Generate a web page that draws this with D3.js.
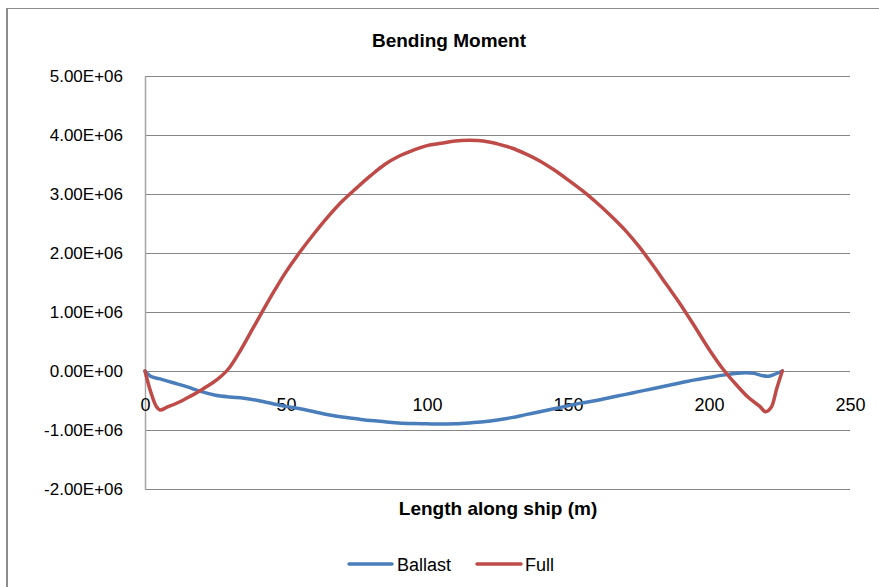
<!DOCTYPE html>
<html>
<head>
<meta charset="utf-8">
<script src="https://cdn.jsdelivr.net/npm/d3@7"></script>
<style>
  html, body { margin: 0; padding: 0; background: #fff; }
  svg { display: block; }
  text { font-family: "Liberation Sans", Arial, sans-serif; fill: #000; }
</style>
</head>
<body>
<svg id="chart" width="879" height="587"></svg>
<script>
// Bending moment along the ship (m) for two loading conditions, values in N·m
const ballastX = [0, 2, 5, 10, 15, 20, 25, 30, 35, 40, 45, 50, 55, 60, 65, 70, 75, 80, 85, 90,
  95, 100, 105, 110, 115, 120, 125, 130, 135, 140, 145, 150, 155, 160, 165, 170, 175, 180,
  185, 190, 195, 200, 205, 210, 213, 216, 219, 221, 223, 226];
const ballastM = [0, -0.09e6, -0.13e6, -0.2e6, -0.27e6, -0.35e6, -0.41e6, -0.44e6, -0.46e6,
  -0.5e6, -0.55e6, -0.6e6, -0.64e6, -0.69e6, -0.74e6, -0.78e6, -0.81e6, -0.84e6, -0.86e6,
  -0.88e6, -0.89e6, -0.895e6, -0.9e6, -0.895e6, -0.88e6, -0.86e6, -0.83e6, -0.79e6, -0.74e6,
  -0.69e6, -0.64e6, -0.59e6, -0.54e6, -0.5e6, -0.45e6, -0.4e6, -0.35e6, -0.3e6, -0.25e6,
  -0.2e6, -0.15e6, -0.11e6, -0.07e6, -0.04e6, -0.03e6, -0.04e6, -0.08e6, -0.09e6, -0.06e6, 0];

const fullX = [0, 2, 4, 5.3, 8, 12, 16, 20, 24, 27, 30, 34, 38, 42, 46, 50, 55, 60, 65, 70, 75,
  80, 85, 90, 95, 100, 105, 110, 115, 120, 125, 130, 135, 140, 145, 150, 155, 160, 165, 170,
  175, 180, 185, 190, 195, 200, 205, 210, 214, 218, 220, 222, 224, 226];
const fullM = [0, -0.35e6, -0.6e6, -0.66e6, -0.61e6, -0.53e6, -0.43e6, -0.32e6, -0.2e6,
  -0.09e6, 0.06e6, 0.36e6, 0.7e6, 1.04e6, 1.37e6, 1.68e6, 2.02e6, 2.33e6, 2.62e6, 2.88e6,
  3.1e6, 3.31e6, 3.5e6, 3.64e6, 3.74e6, 3.82e6, 3.86e6, 3.9e6, 3.91e6, 3.9e6, 3.85e6,
  3.78e6, 3.68e6, 3.56e6, 3.41e6, 3.24e6, 3.06e6, 2.86e6, 2.64e6, 2.4e6, 2.12e6, 1.8e6,
  1.46e6, 1.12e6, 0.75e6, 0.37e6, 0.03e6, -0.25e6, -0.45e6, -0.6e6, -0.69e6, -0.62e6, -0.3e6, 0];

const xTicks = [0, 50, 100, 150, 200, 250];
const yTicks = [5e6, 4e6, 3e6, 2e6, 1e6, 0, -1e6, -2e6];

const seriesNames = ["Ballast", "Full"];
const seriesColors = ["#4a7ebb", "#be4b48"];

const svg = d3.select("#chart");

// outer frame of the chart area
svg.append("rect")
  .attr("x", 7.5).attr("y", 8.5)
  .attr("width", 900).attr("height", 620)
  .attr("fill", "none").attr("stroke", "#8c8c8c").attr("stroke-width", 1);
svg.append("line")
  .attr("x1", 7).attr("x2", 7).attr("y1", 8).attr("y2", 600)
  .attr("stroke", "#8c8c8c").attr("stroke-width", 2);

const plot = { left: 145, right: 850, top: 76, bottom: 489 };

const x = d3.scaleLinear().domain([0, 250]).range([plot.left, plot.right]);
const y = d3.scaleLinear().domain([-2e6, 5e6]).range([plot.bottom, plot.top]);

// horizontal gridlines
svg.append("g")
  .selectAll("line")
  .data(yTicks)
  .join("line")
  .attr("x1", plot.left).attr("x2", plot.right)
  .attr("y1", d => Math.round(y(d)) + 0.5).attr("y2", d => Math.round(y(d)) + 0.5)
  .attr("stroke", "#868686").attr("stroke-width", 1);

// vertical axis line
svg.append("line")
  .attr("x1", plot.left + 0.5).attr("x2", plot.left + 0.5)
  .attr("y1", plot.top).attr("y2", plot.bottom + 1)
  .attr("stroke", "#a6a6a6").attr("stroke-width", 1.5);

// y axis labels
const fmt = d => {
  if (d === 0) return "0.00E+00";
  const e = Math.floor(Math.log10(Math.abs(d)));
  const m = d / Math.pow(10, e);
  return m.toFixed(2) + "E+" + String(e).padStart(2, "0");
};
const yAxis = d3.axisLeft(y).tickValues(yTicks).tickFormat(fmt).tickSize(0).tickPadding(22);
const gy = svg.append("g").attr("transform", `translate(${plot.left},0)`).call(yAxis);
gy.select(".domain").remove();
gy.selectAll("text").style("font-size", "17px").style("font-family", "'Liberation Sans', Arial, sans-serif").attr("fill", "#000");

// x axis labels sit below the zero line
const xAxis = d3.axisBottom(x).tickValues(xTicks).tickFormat(d3.format("d")).tickSize(0).tickPadding(40);
const gx = svg.append("g").attr("transform", `translate(0,${y(0)})`).call(xAxis);
gx.select(".domain").remove();
gx.selectAll("text").style("font-size", "18px").style("font-family", "'Liberation Sans', Arial, sans-serif").attr("fill", "#000").attr("dy", "0");

// series lines, smoothed through the sampled stations
const line = d3.line().curve(d3.curveCatmullRom.alpha(0.5)).x(d => x(d[0])).y(d => y(d[1]));
const series = [
  ballastX.map((v, i) => [v, ballastM[i]]),
  fullX.map((v, i) => [v, fullM[i]])
];
svg.append("g")
  .selectAll("path")
  .data(series)
  .join("path")
  .attr("d", line)
  .attr("fill", "none")
  .attr("stroke", (d, i) => seriesColors[i])
  .attr("stroke-width", 3.5)
  .attr("stroke-linejoin", "round")
  .attr("stroke-linecap", "round");

// title and axis title
svg.append("text")
  .attr("x", 449).attr("y", 47)
  .attr("text-anchor", "middle")
  .style("font-size", "19px").style("font-weight", "bold")
  .text("Bending Moment");

svg.append("text")
  .attr("x", 498).attr("y", 515)
  .attr("text-anchor", "middle")
  .style("font-size", "19px").style("font-weight", "bold")
  .text("Length along ship (m)");

// legend
const legendItems = [
  { x1: 349, x2: 392, tx: 397 },
  { x1: 477, x2: 521, tx: 525 }
];
const lg = svg.append("g");
legendItems.forEach((it, i) => {
  lg.append("line")
    .attr("x1", it.x1).attr("x2", it.x2)
    .attr("y1", 564).attr("y2", 564)
    .attr("stroke", seriesColors[i]).attr("stroke-width", 3.5)
    .attr("stroke-linecap", "round");
  lg.append("text")
    .attr("x", it.tx).attr("y", 571)
    .style("font-size", "18px")
    .text(seriesNames[i]);
});
</script>
</body>
</html>
